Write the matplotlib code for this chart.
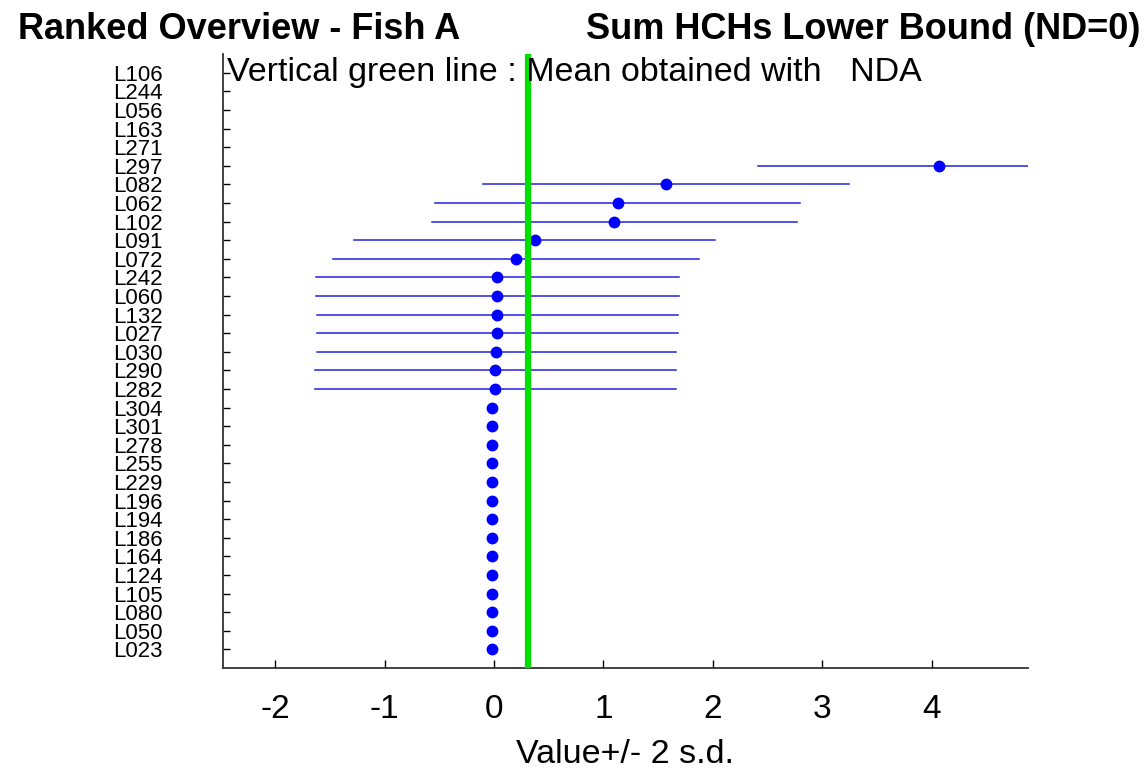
import numpy as np
import matplotlib
matplotlib.use("Agg")
import matplotlib.pyplot as plt

plt.rcParams['font.family'] = ['Liberation Sans', 'DejaVu Sans']

# labs, from top of the chart to the bottom
labs = ["L106", "L244", "L056", "L163", "L271", "L297", "L082", "L062", "L102",
        "L091", "L072", "L242", "L060", "L132", "L027", "L030", "L290", "L282",
        "L304", "L301", "L278", "L255", "L229", "L196", "L194", "L186", "L164",
        "L124", "L105", "L080", "L050", "L023"]
# reported values (None = no value reported)
values = [None, None, None, None, None, 4.07, 1.57, 1.13, 1.10,
          0.37, 0.20, 0.03, 0.03, 0.03, 0.03, 0.02, 0.01, 0.01,
          -0.02, -0.02, -0.02, -0.02, -0.02, -0.02, -0.02, -0.02, -0.02,
          -0.02, -0.02, -0.02, -0.02, -0.02]
# 2 s.d. half-width of the bars
two_sd = [0, 0, 0, 0, 0, 1.66, 1.67, 1.67, 1.67,
          1.65, 1.67, 1.66, 1.66, 1.65, 1.65, 1.64, 1.65, 1.65,
          0, 0, 0, 0, 0, 0, 0, 0, 0, 0, 0, 0, 0, 0]
mean_nda = 0.31

n = len(labs)
ypos = np.arange(n, 0, -1)

fig = plt.figure(figsize=(11.46, 7.75), dpi=100)
ax = fig.add_axes([0.1943, 0.138, 0.7027, 0.792])

for y, v, e in zip(ypos, values, two_sd):
    if v is None:
        continue
    if e > 0:
        ax.plot([v - e, v + e], [y, y], color='#2020e0', lw=1.1, zorder=2)
    ax.plot(v, y, 'o', color='blue', markersize=7.5, zorder=3)

# mean obtained with NDA
ax.axvline(mean_nda, color='#00e000', lw=4.5, zorder=4)

ax.set_xlim(-2.48, 4.88)
ax.set_ylim(0, n + 1)
ax.set_xticks([-2, -1, 0, 1, 2, 3, 4])
ax.set_xticklabels(["-2", "-1", "0", "1", "2", "3", "4"], fontsize=24)
ax.set_yticks(ypos)
ax.set_yticklabels(labs, fontsize=16)
ax.tick_params(axis='y', direction='in', length=5, width=1, pad=43)
ax.tick_params(axis='x', direction='in', length=6, width=1, pad=19)
ax.spines['top'].set_visible(False)
ax.spines['right'].set_visible(False)
ax.spines['left'].set_linewidth(1.3)
ax.spines['bottom'].set_linewidth(1.3)
ax.spines['left'].set_color('#333333')
ax.spines['bottom'].set_color('#333333')

ax.set_xlabel("Value+/- 2 s.d.", fontsize=24.5, labelpad=10)

ax.text(-2.44, n, "Vertical green line : Mean obtained with   NDA",
        fontsize=24.5, va='center', ha='left', zorder=5)

fig.text(0.016, 0.962, "Ranked Overview - Fish A", fontsize=26,
         fontweight='bold', va='center', ha='left')
fig.text(0.995, 0.962, "Sum HCHs Lower Bound (ND=0)", fontsize=26,
         fontweight='bold', va='center', ha='right')

fig.savefig("out.png", dpi=100)
